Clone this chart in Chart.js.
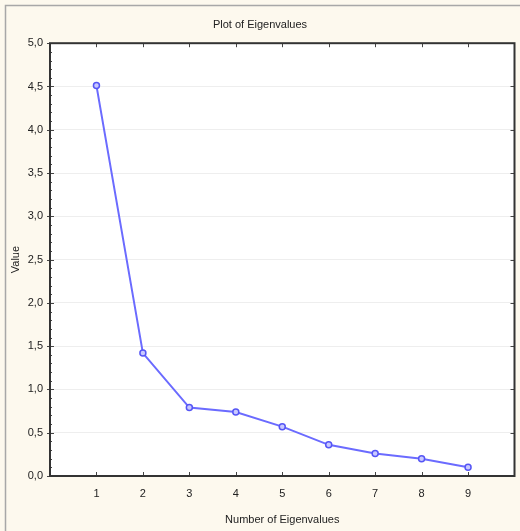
<!doctype html>
<html lang="en">

<head>
    <meta charset="utf-8">
    <title>Plot of Eigenvalues</title>
    <script src="https://cdn.jsdelivr.net/npm/chart.js"></script>
    <style>
        html, body { margin: 0; padding: 0; background: #fdf9ee; }
        #wrap { position: relative; width: 520px; height: 531px; }
    </style>
</head>

<body>
    <div id="wrap">
        <canvas id="screePlot" width="520" height="531"></canvas>
    </div>

    <script>
        // eigenvalue number and value
        const eigenNumbers = [1, 2, 3, 4, 5, 6, 7, 8, 9];
        const eigenValues = [4.51, 1.42, 0.79, 0.74, 0.57, 0.36, 0.26, 0.20, 0.10];
        const yTicks = [0, 0.5, 1, 1.5, 2, 2.5, 3, 3.5, 4, 4.5, 5];

        const FONT = 'Liberation Sans, Arial, sans-serif';

        // background, outer frame and the inward ticks like the original
        const framePlugin = {
            id: 'frame',
            beforeDraw(chart) {
                const ctx = chart.ctx;
                ctx.save();
                ctx.fillStyle = '#fdf9ee';
                ctx.fillRect(0, 0, chart.width, chart.height);
                ctx.strokeStyle = '#a8a8a8';
                ctx.lineWidth = 1.5;
                ctx.beginPath();
                ctx.moveTo(5.5, chart.height);
                ctx.lineTo(5.5, 5.5);
                ctx.lineTo(chart.width, 5.5);
                ctx.stroke();
                const a = chart.chartArea;
                ctx.fillStyle = '#ffffff';
                ctx.fillRect(a.left, a.top, a.right - a.left, a.bottom - a.top);
                ctx.restore();
            },
            afterDatasetsDraw(chart) {
                const ctx = chart.ctx;
                const a = chart.chartArea;
                const x = chart.scales.x;
                const y = chart.scales.y;
                ctx.save();
                ctx.strokeStyle = '#444';
                ctx.lineWidth = 1;
                ctx.beginPath();
                eigenNumbers.forEach(n => {
                    const px = Math.round(x.getPixelForValue(n)) + 0.5;
                    ctx.moveTo(px, a.top); ctx.lineTo(px, a.top + 4);
                    ctx.moveTo(px, a.bottom); ctx.lineTo(px, a.bottom - 4);
                });
                yTicks.forEach(v => {
                    const py = Math.round(y.getPixelForValue(v)) + 0.5;
                    ctx.moveTo(a.left - 3, py); ctx.lineTo(a.left + 4, py);
                    ctx.moveTo(a.right, py); ctx.lineTo(a.right - 4, py);
                });
                for (let v = 0.1; v < 5; v += 0.1) {
                    const py = Math.round(y.getPixelForValue(v)) + 0.5;
                    ctx.moveTo(a.left, py); ctx.lineTo(a.left + 2, py);
                }
                ctx.stroke();
                ctx.strokeStyle = '#333';
                ctx.lineWidth = 2;
                ctx.strokeRect(a.left, a.top, a.right - a.left, a.bottom - a.top);
                ctx.restore();
            }
        };

        const data = {
            datasets: [{
                label: 'Eigenvalues',
                data: eigenNumbers.map((n, i) => ({ x: n, y: eigenValues[i] })),
                borderColor: '#6b6bff',
                borderWidth: 2,
                pointRadius: 3,
                pointBorderWidth: 1.5,
                pointBackgroundColor: '#c9c9ff',
                pointBorderColor: '#5555f5',
                tension: 0
            }]
        };

        const config = {
            type: 'line',
            data: data,
            plugins: [framePlugin],
            options: {
                responsive: false,
                animation: false,
                layout: { padding: { left: 5, right: 5, top: 0, bottom: 0 } },
                plugins: {
                    legend: { display: false },
                    tooltip: { enabled: false },
                    title: {
                        display: true,
                        text: 'Plot of Eigenvalues',
                        color: '#222',
                        font: { family: FONT, size: 11, weight: 'normal' },
                        padding: { top: 18, bottom: 12 }
                    }
                },
                scales: {
                    x: {
                        type: 'linear',
                        min: 0,
                        max: 10,
                        afterFit(scale) {
                            scale.height = 55;
                            scale.paddingRight = 0;
                            scale.paddingLeft = 0;
                        },
                        ticks: {
                            stepSize: 1,
                            color: '#222',
                            font: { family: FONT, size: 11 },
                            padding: 11,
                            callback: v => (v >= 1 && v <= 9) ? String(v) : ''
                        },
                        grid: { display: false, drawTicks: false },
                        border: { display: false },
                        title: {
                            display: true,
                            text: 'Number of Eigenvalues',
                            color: '#222',
                            font: { family: FONT, size: 11 },
                            padding: { top: 8 }
                        }
                    },
                    y: {
                        min: 0,
                        max: 5,
                        afterFit(scale) { scale.width = 45; },
                        ticks: {
                            stepSize: 0.5,
                            color: '#222',
                            font: { family: FONT, size: 11 },
                            padding: 7,
                            callback: v => v.toFixed(1).replace('.', ',')
                        },
                        grid: { color: '#eeeeee', lineWidth: 1, drawTicks: false },
                        border: { display: false },
                        title: {
                            display: true,
                            text: 'Value',
                            color: '#222',
                            font: { family: FONT, size: 11 },
                            padding: { bottom: 0 }
                        }
                    }
                }
            }
        };

        new Chart(document.getElementById('screePlot'), config);
    </script>
</body>

</html>
